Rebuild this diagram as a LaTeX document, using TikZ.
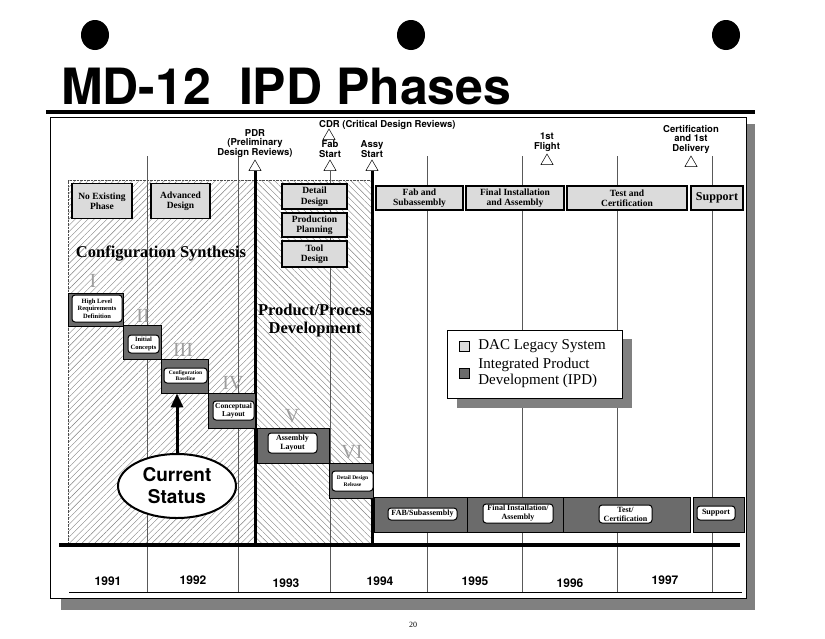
\documentclass[tikz,border=0pt]{standalone}
\usepackage{fontspec}
\setmainfont{Liberation Serif}
\setsansfont{TeX Gyre Heros}
\usetikzlibrary{positioning,shapes.geometric,arrows.meta,patterns.meta}

\definecolor{legacygray}{gray}{0.86}
\definecolor{ipdgray}{gray}{0.42}
\definecolor{shadegray}{gray}{0.5}
\definecolor{hatchgray}{gray}{0.5}
\definecolor{numgray}{gray}{0.62}

\begin{document}
\begin{tikzpicture}[x=1pt, y=-1pt,
	every node/.style={inner sep=0pt},
	legacy/.style={draw, line width=1.1pt, fill=legacygray, align=center, font=\bfseries\fontsize{9.5}{10.5}\selectfont},
	ipd/.style={draw, line width=0.8pt, fill=ipdgray},
	ipdtag/.style={draw, line width=1pt, fill=white, rounded corners=3pt, align=center, font=\bfseries\fontsize{6.5}{7.5}\selectfont},
	marker/.style={regular polygon, regular polygon sides=3, draw, fill=white, line width=0.5pt, minimum size=14pt},
	milestone/.style={align=center, font=\sffamily\bfseries\fontsize{9.5}{9.5}\selectfont},
	numeral/.style={text=numgray, font=\fontsize{20}{20}\selectfont},
	phase/.style={align=center, font=\bfseries\fontsize{16.5}{18}\selectfont},
	year/.style={font=\sffamily\bfseries\fontsize{12}{12}\selectfont},
	gridline/.style={line width=0.5pt, black!65},
	gate/.style={line width=3pt},
	hatch/.style={pattern={Lines[angle=#1, distance=4.5pt, line width=0.4pt]}, pattern color=hatchgray}]
	\useasboundingbox (0,0) rectangle (825,638);
	% binder holes and title
	\foreach \x in {95,411,726} \fill (\x,35) ellipse [x radius=14, y radius=15];
	\node[anchor=base west, font=\sffamily\bfseries\fontsize{50}{50}\selectfont] (title) at (61,104) {MD-12~~IPD Phases};
	% sheet
	\fill[shadegray] (61,124) rectangle (755,610);
	\draw[fill=white, line width=0.8pt] (50,117) rectangle (746,598);
	\draw[line width=4pt] (46,112) -- (755,112);
	\path[hatch=45] (68,180) rectangle (256,545);
	\path[hatch=-45] (256,180) rectangle (373,545);
	\draw[densely dotted, black!70] (68,545) -- (68,180) -- (373,180);
	\coordinate (barline) at (0,545);
	\coordinate (yearline) at (0,592);
	\foreach \x in {147,238,427,522,617,712} \draw[gridline] (\x,156) -- (\x,592);
	% milestones
	\node[marker] (pdrmark) at (255,167) {};
	\node[marker] (fabmark) at (330,167) {};
	\node[marker] (assymark) at (372,167) {};
	\node[marker] (cdrmark) at (329,136) {};
	\node[marker] (flightmark) at (547,161) {};
	\node[marker] (certmark) at (691,163) {};
	\draw[gate] (pdrmark.south) -- (pdrmark.south |- barline);
	\draw[gate] (assymark.south) -- (assymark.south |- barline);
	\draw[gridline] (fabmark.south) -- (fabmark.south |- yearline);
	\node[milestone, above=2pt of pdrmark] (pdrlbl) {PDR\\(Preliminary\\Design Reviews)};
	\node[milestone, above=2pt of fabmark] (fablbl) {Fab\\Start};
	\node[milestone, above=2pt of assymark] (assylbl) {Assy\\Start};
	\node[milestone, above=2pt of flightmark] (flightlbl) {1st\\Flight};
	\node[milestone, above=2pt of certmark] (certlbl) {Certification\\and 1st\\Delivery};
	\node[milestone, anchor=west] (cdrlbl) at (319,125) {CDR (Critical Design Reviews)};
	% legacy phases
	\node[legacy, minimum width=60pt, minimum height=35pt] (noexist) at (102,201) {No Existing\\Phase};
	\node[legacy, minimum width=59pt, minimum height=35pt] (advdesign) at (180.5,201) {Advanced\\Design};
	\node[legacy, minimum width=65pt, minimum height=25pt] (detdesign) at (314.5,196.5) {Detail\\Design};
	\node[legacy, minimum width=65pt, minimum height=24pt] (prodplan) at (314.5,225) {Production\\Planning};
	\node[legacy, minimum width=65pt, minimum height=26pt] (tooldesign) at (314.5,254) {Tool\\Design};
	\node[legacy, minimum width=87pt, minimum height=24pt] (fabsub) at (419.5,198) {Fab and\\Subassembly};
	\node[legacy, minimum width=98pt, minimum height=24pt] (finalinst) at (515,198) {Final Installation\\and Assembly};
	\node[legacy, minimum width=120pt, minimum height=24pt] (testcert) at (627,198) {Test and\\Certification};
	\node[legacy, minimum width=52pt, minimum height=24pt, font=\bfseries\fontsize{12}{12}\selectfont] (support) at (717,198) {Support};
	\node[phase] (synth) at (161,254) {Configuration Synthesis};
	\node[phase] (prodproc) at (315,321) {Product/Process\\Development};
	% IPD staircase
	\node[numeral] (num1) at (93,281) {I};
	\node[numeral] (num2) at (143,316) {II};
	\node[numeral] (num3) at (183,350) {III};
	\node[numeral] (num4) at (233,383) {IV};
	\node[numeral] (num5) at (292,416) {V};
	\node[numeral] (num6) at (352,452) {VI};
	\node[ipd, minimum width=55pt, minimum height=33pt] (hlr) at (95.5,309.5) {};
	\node[ipdtag, minimum width=50pt, minimum height=27pt] (hlrtag) at (97,308.5) {High Level\\Requirements\\Definition};
	\node[ipd, minimum width=38pt, minimum height=34pt] (initial) at (142,342) {};
	\node[ipdtag, minimum width=31pt, minimum height=18pt] (initialtag) at (143.5,344) {Initial\\Concepts};
	\node[ipd, minimum width=47pt, minimum height=34pt] (cfgbase) at (184.5,376) {};
	\node[ipdtag, minimum width=43pt, minimum height=15pt, font=\bfseries\fontsize{5.5}{6.5}\selectfont] (cfgbasetag) at (185.5,375.5) {Configuration\\Baseline};
	\node[ipd, minimum width=47pt, minimum height=35pt] (concept) at (231.5,410.5) {};
	\node[ipdtag, minimum width=41pt, minimum height=19pt, font=\bfseries\fontsize{7.5}{8.5}\selectfont] (concepttag) at (233.5,410.5) {Conceptual\\Layout};
	\node[ipd, minimum width=72pt, minimum height=35pt] (asmlayout) at (293,445.5) {};
	\node[ipdtag, minimum width=49pt, minimum height=20pt, font=\bfseries\fontsize{8}{9}\selectfont] (asmlayouttag) at (292.5,443) {Assembly\\Layout};
	\node[ipd, minimum width=44pt, minimum height=35pt] (release) at (351,480.5) {};
	\node[ipdtag, minimum width=41pt, minimum height=20pt, font=\bfseries\fontsize{5.5}{7.5}\selectfont] (releasetag) at (352.5,481) {Detail Design\\Release};
	% IPD production row
	\node[ipd, minimum width=93pt, minimum height=35pt] (fabbar) at (420.5,514.5) {};
	\node[ipdtag, minimum width=69pt, minimum height=12pt, font=\bfseries\fontsize{8}{9}\selectfont] (fabbartag) at (422.5,514) {FAB/Subassembly};
	\node[ipd, minimum width=96pt, minimum height=35pt] (finalbar) at (515,514.5) {};
	\node[ipdtag, minimum width=70pt, minimum height=19pt, font=\bfseries\fontsize{8}{9}\selectfont] (finalbartag) at (518,513.5) {Final Installation/\\Assembly};
	\node[ipd, minimum width=127pt, minimum height=35pt] (testbar) at (626.5,514.5) {};
	\node[ipdtag, minimum width=53pt, minimum height=18pt, font=\bfseries\fontsize{8}{9}\selectfont] (testbartag) at (625.5,514) {Test/\\Certification};
	\node[ipd, minimum width=51pt, minimum height=35pt] (suppbar) at (718.5,514.5) {};
	\node[ipdtag, minimum width=38pt, minimum height=14pt, font=\bfseries\fontsize{8}{9}\selectfont] (suppbartag) at (716,513) {Support};
	% legend
	\fill[shadegray] (457,339) rectangle (632,408);
	\node[draw, fill=white, line width=0.8pt, minimum width=175pt, minimum height=68pt] (legend) at (534.5,364) {};
	\node[draw, fill=legacygray, minimum size=10pt] (keydac) at (464,346) {};
	\node[right=9pt of keydac, font=\fontsize{15}{15}\selectfont] (keydactxt) {DAC Legacy System};
	\node[draw, fill=ipdgray, minimum size=10pt] (keyipd) at (464,373) {};
	\node[right=9pt of keyipd, align=left, font=\fontsize{15}{16}\selectfont] (keyipdtxt) {Integrated Product\\Development (IPD)};
	% status
	\node[ellipse, draw, line width=2pt, fill=white, minimum width=118pt, minimum height=64pt, align=center, font=\sffamily\bfseries\fontsize{19}{22}\selectfont] (status) at (177,486) {Current\\Status};
	\draw[line width=3pt, -{Triangle[length=14pt, width=12pt]}] (status.north) -- (status.north |- cfgbase.south);
	% years
	\draw[line width=3.5pt] (59,545) -- (740,545);
	\draw[line width=0.6pt] (69,592) -- (742,592);
	\foreach \yr/\x/\y in {1991/108/581, 1992/193/580, 1993/286/583, 1994/380/581, 1995/475/581, 1996/570/583, 1997/665/580}
		\node[year] (y\yr) at (\x,\y) {\yr};
	\node[font=\fontsize{8}{8}\selectfont] (pageno) at (413,625) {20};
\end{tikzpicture}
\end{document}
